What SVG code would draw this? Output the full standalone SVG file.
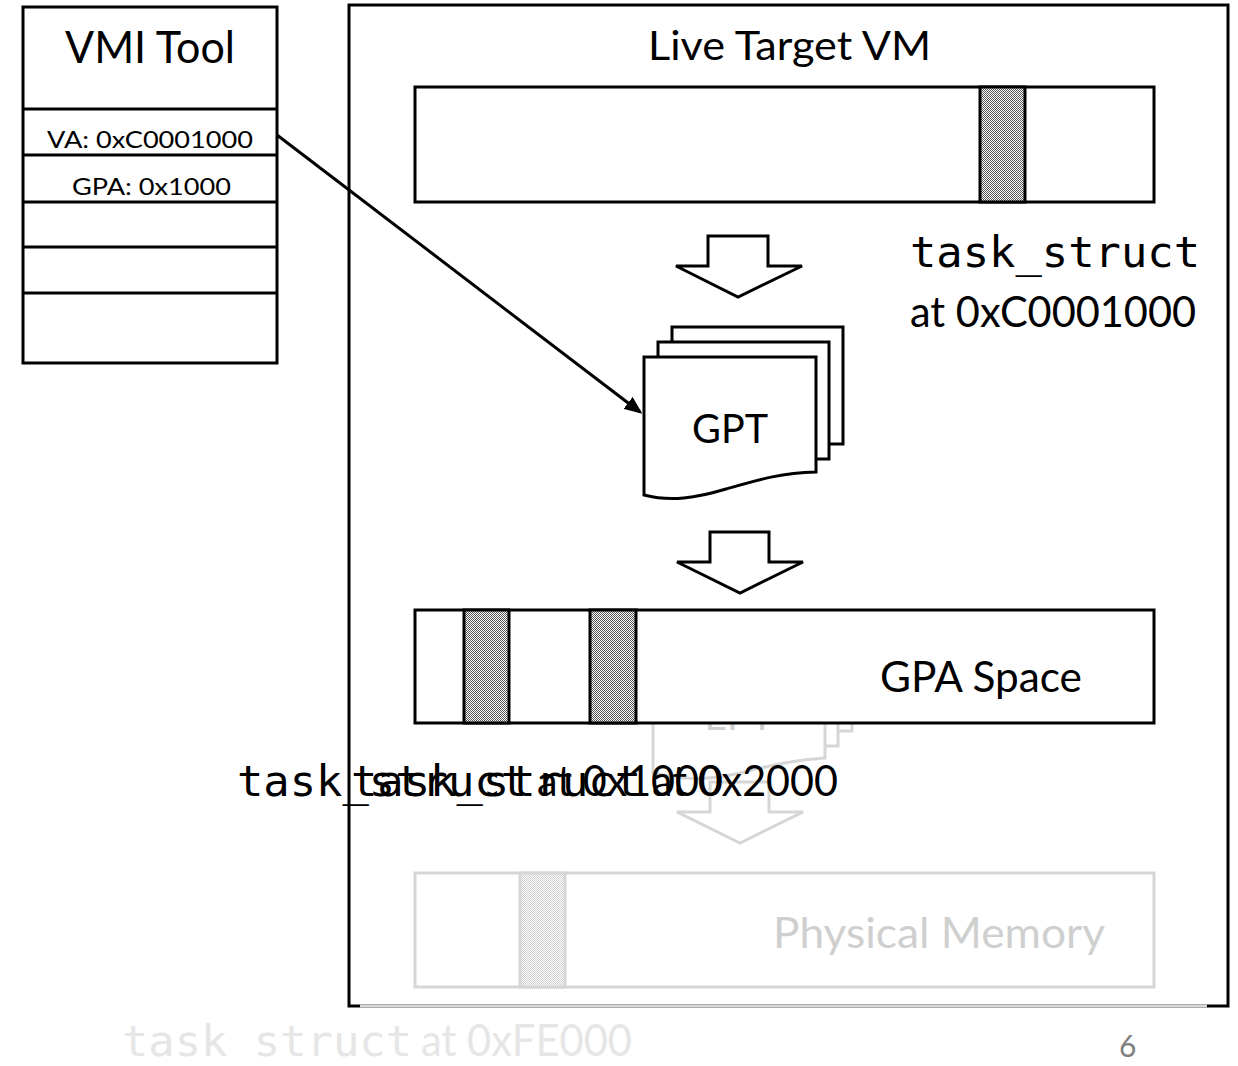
<svg xmlns="http://www.w3.org/2000/svg" width="1238" height="1066" viewBox="0 0 1238 1066">
<style>
.box{fill:#fff;stroke:#000;stroke-width:3}
.fbox{fill:#fff;stroke:#d6d6d6;stroke-width:3}
.line{stroke:#000;stroke-width:3;fill:none}
.sans{font-family:Lato,"Open Sans","Liberation Sans",sans-serif}
.mono{font-family:"DejaVu Sans Mono","Liberation Mono",monospace}
.hatch{fill:url(#chk);stroke:#000;stroke-width:3}
.fhatch{fill:url(#fchk);stroke:#d6d6d6;stroke-width:3}
</style>
<defs>
<pattern id="chk" width="2" height="2" patternUnits="userSpaceOnUse">
<rect width="2" height="2" fill="#fff"/>
<rect width="1" height="1" fill="#555"/>
<rect x="1" y="1" width="1" height="1" fill="#555"/>
</pattern>
<pattern id="fchk" width="2" height="2" patternUnits="userSpaceOnUse">
<rect width="2" height="2" fill="#fff"/>
<rect width="1" height="1" fill="#cfcfcf"/>
<rect x="1" y="1" width="1" height="1" fill="#cfcfcf"/>
</pattern>
<marker id="ah" markerWidth="6" markerHeight="5" refX="5" refY="2.5" orient="auto" markerUnits="strokeWidth">
<path d="M0,0 L6,2.5 L0,5 Z" fill="#000"/>
</marker>
</defs>
<rect width="1238" height="1066" fill="#fff"/>

<g id="live-target-vm">
<rect x="349" y="5" width="879" height="1001" class="box"/>
<line x1="360" y1="1006" x2="1207" y2="1006" stroke="#d9d9d9" stroke-width="3"/>
<text x="648" y="60" class="sans" font-size="40" textLength="283" lengthAdjust="spacingAndGlyphs">Live Target VM</text>
</g>

<g id="vmi-tool">
<rect x="23" y="7" width="254" height="356" class="box"/>
<line x1="23" y1="109" x2="277" y2="109" class="line"/>
<line x1="23" y1="155" x2="277" y2="155" class="line" stroke-width="2.2"/>
<line x1="23" y1="202" x2="277" y2="202" class="line" stroke-width="2.2"/>
<line x1="23" y1="247" x2="277" y2="247" class="line"/>
<line x1="23" y1="293" x2="277" y2="293" class="line"/>
<text x="65" y="63" class="sans" font-size="45" textLength="170" lengthAdjust="spacingAndGlyphs">VMI Tool</text>
<text x="47" y="148" class="sans" font-size="24" textLength="206" lengthAdjust="spacingAndGlyphs">VA: 0xC0001000</text>
<text x="72" y="195" class="sans" font-size="24" textLength="159" lengthAdjust="spacingAndGlyphs">GPA: 0x1000</text>
</g>

<g id="va-space">
<rect x="415" y="87" width="739" height="115" class="box"/>
<rect x="980" y="87" width="45" height="115" class="hatch"/>
<text x="910" y="267" class="mono" font-size="42" textLength="290" lengthAdjust="spacingAndGlyphs">task_struct</text>
<text x="910" y="327" class="sans" font-size="43" textLength="286" lengthAdjust="spacingAndGlyphs">at 0xC0001000</text>
</g>

<g id="ept-faded">
<rect x="681" y="614" width="171" height="117" fill="#fff" stroke="#d6d6d6" stroke-width="3"/>
<rect x="667" y="629" width="171" height="117" fill="#fff" stroke="#d6d6d6" stroke-width="3"/>
<path d="M653,644 L825,644 L825,758 C790,760 770,766 735,774 C705,781 680,779 653,773 Z" fill="#fff" stroke="#d6d6d6" stroke-width="3"/>
<text x="739" y="730" class="sans" font-size="39" fill="#d0d0d0" text-anchor="middle">EPT</text>
<polygon points="710,782 769,782 769,812 803,812 740,843 677,812 710,812" fill="#fff" stroke="#d6d6d6" stroke-width="3"/>
</g>

<g id="gpt">
<rect x="672" y="327" width="171" height="117" class="box"/>
<rect x="658" y="342" width="171" height="117" class="box"/>
<path d="M644,357 L816,357 L816,472 C781,473 761,479 726,489 C696,498 671,502 644,495 Z" class="box"/>
<text x="692" y="443" class="sans" font-size="40" textLength="76" lengthAdjust="spacingAndGlyphs">GPT</text>
</g>

<g id="gpa-space">
<rect x="415" y="610" width="739" height="113" class="box"/>
<rect x="464" y="610" width="45" height="113" class="hatch"/>
<rect x="590" y="610" width="46" height="113" class="hatch"/>
<text x="880" y="692" class="sans" font-size="42" textLength="202" lengthAdjust="spacingAndGlyphs">GPA Space</text>
</g>

<g id="gpa-labels">
<text x="237" y="796" class="mono" font-size="42" textLength="290" lengthAdjust="spacingAndGlyphs">task_struct</text>
<text x="537" y="796" class="sans" font-size="42" textLength="186" lengthAdjust="spacingAndGlyphs">at 0x1000</text>
<text x="351" y="796" class="mono" font-size="42" textLength="290" lengthAdjust="spacingAndGlyphs">task_struct</text>
<text x="652" y="796" class="sans" font-size="42" textLength="186" lengthAdjust="spacingAndGlyphs">at 0x2000</text>
</g>

<g id="physical-memory">
<rect x="415" y="873" width="739" height="114" class="fbox"/>
<rect x="520" y="873" width="45" height="114" class="fhatch"/>
<text x="773" y="948" class="sans" font-size="42" fill="#cfcfcf" textLength="332" lengthAdjust="spacingAndGlyphs">Physical Memory</text>
</g>

<g id="pm-label">
<text x="122" y="1056" class="mono" font-size="42" fill="#e6e6e6" textLength="290" lengthAdjust="spacingAndGlyphs">task struct</text>
<text x="421" y="1056" class="sans" font-size="44" fill="#e6e6e6" textLength="211" lengthAdjust="spacingAndGlyphs">at 0xFE000</text>
</g>

<g id="page-number">
<text x="1119" y="1057" class="sans" font-size="30" fill="#808080">6</text>
</g>

<g id="connectors">
<polygon points="708,236 768,236 768,266 802,266 738,297 676,266 708,266" class="box"/>
<polygon points="710,532 769,532 769,562 803,562 740,593 677,562 710,562" class="box"/>
<line x1="277" y1="135" x2="640" y2="412" class="line" marker-end="url(#ah)"/>
</g>
</svg>
